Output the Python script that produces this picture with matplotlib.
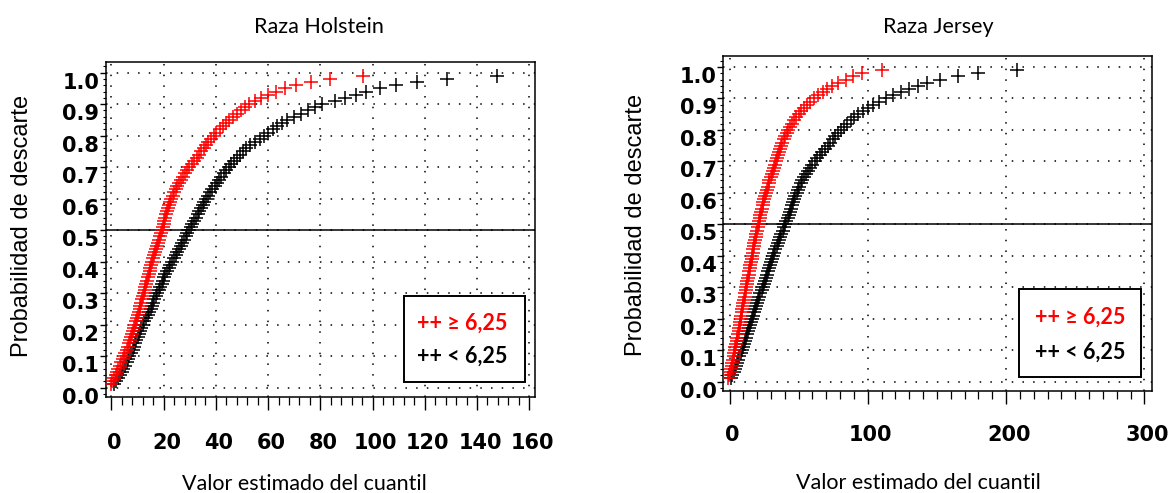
import matplotlib
matplotlib.use("Agg")
import matplotlib.pyplot as plt
from matplotlib.ticker import MultipleLocator, FixedLocator, FixedFormatter
from matplotlib.transforms import ScaledTranslation
from matplotlib.patches import Rectangle

# ---------------- data ----------------
prob_levels = [0.01, 0.02, 0.03, 0.04, 0.05, 0.06, 0.07, 0.08, 0.09, 0.10,
               0.11, 0.12, 0.13, 0.14, 0.15, 0.16, 0.17, 0.18, 0.19, 0.20,
               0.21, 0.22, 0.23, 0.24, 0.25, 0.26, 0.27, 0.28, 0.29, 0.30,
               0.31, 0.32, 0.33, 0.34, 0.35, 0.36, 0.37, 0.38, 0.39, 0.40,
               0.41, 0.42, 0.43, 0.44, 0.45, 0.46, 0.47, 0.48, 0.49, 0.50,
               0.51, 0.52, 0.53, 0.54, 0.55, 0.56, 0.57, 0.58, 0.59, 0.60,
               0.61, 0.62, 0.63, 0.64, 0.65, 0.66, 0.67, 0.68, 0.69, 0.70,
               0.71, 0.72, 0.73, 0.74, 0.75, 0.76, 0.77, 0.78, 0.79, 0.80,
               0.81, 0.82, 0.83, 0.84, 0.85, 0.86, 0.87, 0.88, 0.89, 0.90,
               0.91, 0.92, 0.93, 0.94, 0.95, 0.96, 0.97, 0.98, 0.99]

holstein_hi = [-0.3, 0.4, 1.0, 1.6, 2.2, 2.7, 3.2, 3.8, 4.3, 4.8,
               5.3, 5.8, 6.2, 6.6, 7.0, 7.4, 7.8, 8.2, 8.6, 9.0,
               9.4, 9.8, 10.1, 10.5, 10.8, 11.1, 11.4, 11.8, 12.1, 12.4,
               12.7, 13.0, 13.3, 13.6, 13.9, 14.3, 14.6, 14.9, 15.2, 15.6,
               16.0, 16.3, 16.7, 17.1, 17.5, 17.9, 18.4, 18.7, 19.0, 19.4,
               19.7, 20.0, 20.3, 20.6, 21.0, 21.4, 21.8, 22.2, 22.6, 23.0,
               23.5, 24.1, 24.7, 25.3, 26.0, 26.7, 27.4, 28.2, 29.0, 29.9,
               30.8, 31.7, 32.6, 33.5, 34.4, 35.3, 36.2, 37.1, 38.0, 39.1,
               40.2, 41.4, 42.7, 43.9, 45.2, 46.6, 48.0, 49.5, 51.0, 52.5,
               54.8, 57.3, 60.0, 63.0, 66.6, 70.7, 76.3, 83.6, 96.2]

holstein_lo = [0.9, 1.8, 2.7, 3.4, 4.0, 4.6, 5.2, 5.8, 6.3, 6.9,
               7.5, 8.1, 8.6, 9.0, 9.5, 10.0, 10.5, 11.0, 11.5, 12.0,
               12.6, 13.3, 13.9, 14.5, 15.0, 15.5, 16.0, 16.5, 17.0, 17.6,
               18.1, 18.7, 19.2, 19.7, 20.2, 20.7, 21.3, 22.0, 22.6, 23.2,
               23.9, 24.6, 25.3, 25.9, 26.5, 27.2, 27.8, 28.4, 29.0, 29.6,
               30.3, 30.9, 31.6, 32.3, 33.0, 33.6, 34.3, 34.9, 35.6, 36.3,
               37.0, 37.8, 38.7, 39.5, 40.3, 41.1, 42.0, 43.0, 44.0, 44.9,
               45.8, 46.9, 48.0, 49.1, 50.3, 51.7, 53.2, 54.9, 56.8, 58.4,
               60.0, 61.7, 63.5, 65.4, 67.3, 69.9, 72.5, 75.2, 78.0, 80.8,
               85.5, 89.5, 93.5, 97.5, 103.0, 109.0, 117.0, 128.5, 147.5]

jersey_hi = [-1.0, -0.2, 0.5, 1.1, 1.6, 2.1, 2.5, 3.0, 3.4, 3.9,
             4.3, 4.8, 5.2, 5.7, 6.1, 6.5, 6.9, 7.3, 7.7, 8.0,
             8.4, 8.8, 9.2, 9.6, 10.0, 10.5, 10.9, 11.4, 11.8, 12.2,
             12.6, 12.9, 13.3, 13.8, 14.2, 14.7, 15.1, 15.5, 15.9, 16.3,
             16.7, 17.2, 17.6, 18.0, 18.5, 19.0, 19.5, 20.0, 20.5, 21.0,
             21.5, 21.9, 22.3, 22.9, 23.4, 24.0, 24.5, 25.0, 25.6, 26.2,
             26.8, 27.5, 28.2, 28.9, 29.7, 30.4, 31.2, 31.9, 32.6, 33.3,
             34.0, 34.8, 35.7, 36.5, 37.3, 38.2, 39.2, 40.2, 41.3, 42.5,
             43.8, 45.3, 46.8, 48.4, 50.0, 51.9, 53.8, 55.9, 58.0, 61.0,
             64.0, 67.5, 70.5, 74.0, 78.5, 84.0, 89.0, 96.0, 110.0]

jersey_lo = [1.2, 2.1, 3.0, 3.8, 4.6, 5.5, 6.3, 7.2, 8.0, 8.8,
             9.5, 10.3, 11.1, 11.8, 12.4, 13.1, 13.8, 14.5, 15.2, 16.0,
             16.8, 17.6, 18.4, 19.2, 20.0, 20.8, 21.6, 22.4, 23.2, 24.1,
             25.0, 25.8, 26.6, 27.4, 28.1, 28.9, 29.6, 30.3, 31.0, 31.7,
             32.4, 33.2, 34.0, 34.8, 35.6, 36.5, 37.4, 38.4, 39.5, 40.4,
             41.2, 42.1, 43.0, 43.7, 44.4, 45.1, 45.8, 46.6, 47.5, 48.5,
             49.5, 50.5, 51.5, 52.7, 54.0, 55.5, 57.0, 58.5, 60.0, 61.7,
             63.5, 65.2, 67.0, 69.0, 71.0, 72.7, 74.5, 76.5, 78.5, 80.5,
             82.5, 85.0, 87.5, 90.2, 93.0, 96.5, 100.0, 104.0, 108.0, 113.0,
             118.5, 124.0, 130.0, 136.0, 143.0, 152.0, 165.0, 180.0, 208.0]

titles = ["Raza Holstein", "Raza Jersey"]
xlabel = "Valor estimado del cuantil"
ylabel = "Probabilidad de descarte"
legend_hi = "++ \u2265 6,25"
legend_lo = "++ < 6,25"
ytick_vals = [0.0, 0.1, 0.2, 0.3, 0.4, 0.5, 0.6, 0.7, 0.8, 0.9, 1.0]
ytick_labels = ["0.0", "0.1", "0.2", "0.3", "0.4", "0.5", "0.6", "0.7", "0.8", "0.9", "1.0"]
holstein_xticks = [0, 20, 40, 60, 80, 100, 120, 140, 160]
jersey_xticks = [0, 100, 200, 300]

# ---------------- figure ----------------
plt.rcParams["font.family"] = ["DejaVu Sans"]
W, H = 1171, 493
fig = plt.figure(figsize=(W / 100, H / 100), dpi=100)

def px_axes(l, r, t, b):
    return fig.add_axes([l / W, (H - b) / H, (r - l) / W, (b - t) / H])

axH = px_axes(106, 535, 61.7, 397)
axJ = px_axes(723.3, 1151.7, 56, 391)

def style(ax, xlim, xticks, xminor, xpad):
    ax.set_xlim(*xlim)
    ax.set_ylim(-0.03, 1.035)
    ax.xaxis.set_major_locator(FixedLocator(xticks))
    ax.xaxis.set_major_formatter(FixedFormatter([str(v) for v in xticks]))
    ax.xaxis.set_minor_locator(MultipleLocator(xminor))
    ax.yaxis.set_major_locator(FixedLocator(ytick_vals))
    ax.yaxis.set_major_formatter(FixedFormatter(ytick_labels))
    ax.yaxis.set_minor_locator(MultipleLocator(0.02))
    ax.tick_params(axis="x", which="major", direction="out", length=9.4,
                   width=1.0, pad=xpad, labelsize=15, labelfontfamily="DejaVu Sans")
    ax.tick_params(axis="x", which="minor", direction="out", length=5.8, width=0.9)
    ax.tick_params(axis="y", which="major", direction="out", length=4.3,
                   width=1.0, pad=0.5, labelsize=15, labelfontfamily="DejaVu Sans")
    ax.tick_params(axis="y", which="minor", direction="out", length=2.5, width=0.8)
    for s in ax.spines.values():
        s.set_linewidth(1.1)
        s.set_color("black")
    ax.grid(True, which="major", color="black", linestyle=(0, (1, 6)), linewidth=1.1)
    ax.set_axisbelow(True)
    ax.axhline(0.5, color="black", lw=1.1, zorder=2)
    off_y = ScaledTranslation(0, -8 / 100, fig.dpi_scale_trans)
    for lab in ax.get_yticklabels():
        lab.set_transform(lab.get_transform() + off_y)
        lab.set_fontweight("bold")
    off_x = ScaledTranslation(3 / 100, 0, fig.dpi_scale_trans)
    for lab in ax.get_xticklabels():
        lab.set_transform(lab.get_transform() + off_x)
        lab.set_fontweight("bold")

style(axH, (-2.07, 162.2), holstein_xticks, 4, 16.5)
style(axJ, (-4.5, 305.3), jersey_xticks, 10, 15)

mk = dict(marker="+", linestyle="none", markersize=9.5, markeredgewidth=1.1, zorder=3)
axH.plot(holstein_lo, prob_levels, color="black", **mk)
axH.plot(holstein_hi, prob_levels, color="#ff0000", **mk)
axJ.plot(jersey_lo, prob_levels, color="black", **mk)
axJ.plot(jersey_hi, prob_levels, color="#ff0000", **mk)

# legend boxes
fam_leg = ["Lato", "DejaVu Sans"]
for ax, (bx, by, bw, bh), tx, yr, yb in [
        (axH, (0.695, 0.046, 0.282, 0.255), 0.725, 0.22, 0.122),
        (axJ, (0.691, 0.043, 0.284, 0.260), 0.728, 0.221, 0.116)]:
    ax.add_patch(Rectangle((bx, by), bw, bh, transform=ax.transAxes,
                           facecolor="white", edgecolor="black", lw=1.4, zorder=5))
    ax.text(tx, yr, legend_hi, transform=ax.transAxes, color="#ff0000",
            fontsize=15.5, fontweight="bold", family=fam_leg, ha="left", va="center", zorder=6)
    ax.text(tx, yb, legend_lo, transform=ax.transAxes, color="black",
            fontsize=15.5, fontweight="bold", family=fam_leg, ha="left", va="center", zorder=6)

# titles and axis labels
fig.text(319 / W, 1 - 26.7 / H, titles[0], ha="center", va="center", fontsize=15.5, family="Lato")
fig.text(938 / W, 1 - 26.7 / H, titles[1], ha="center", va="center", fontsize=15.5, family="Lato")
fig.text(304 / W, 1 - 484 / H, xlabel, ha="center", va="center", fontsize=15.5, family="Lato")
fig.text(918 / W, 1 - 483 / H, xlabel, ha="center", va="center", fontsize=15.5, family="Lato")
fig.text(22 / W, 1 - 225.5 / H, ylabel, ha="center", va="center", rotation=90,
         fontsize=17, family="Liberation Sans")
fig.text(636 / W, 1 - 225 / H, ylabel, ha="center", va="center", rotation=90,
         fontsize=17, family="Liberation Sans")

fig.savefig("out.png", dpi=100)
